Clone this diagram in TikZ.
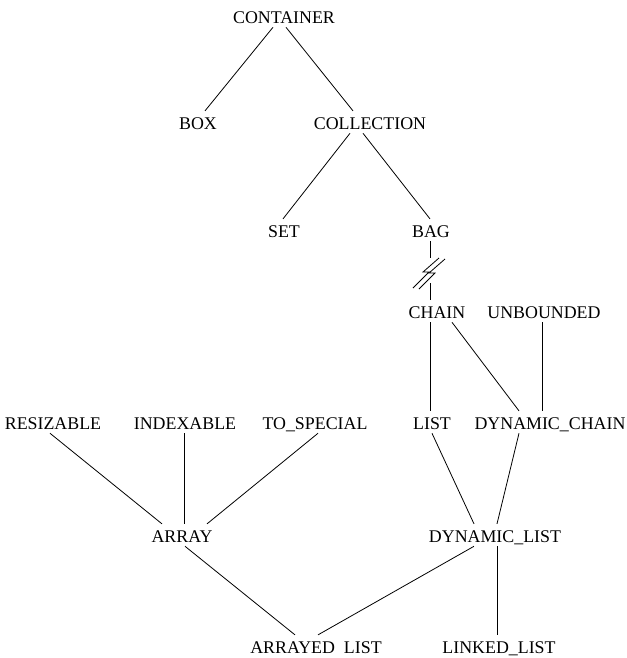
\documentclass[tikz,border=0pt]{standalone}
\usepackage{fontspec}
\setmainfont{Liberation Serif}
\tikzstyle{cls} = [anchor=base, inner sep=0pt, text height=13.4pt, text depth=3pt, font=\fontsize{13.4}{16}\selectfont]
\tikzstyle{link} = [line width=0.6pt]

\begin{document}
\begin{tikzpicture}[x=0.75pt, y=-0.75pt]
    \useasboundingbox (0,0) rectangle (627,658);

    % Nodes
    \node (container) [cls] at (284,23) {CONTAINER};
    \node (box) [cls] at (198,129) {BOX};
    \node (collection) [cls] at (370,129) {COLLECTION};
    \node (set) [cls] at (284,237) {SET};
    \node (bag) [cls] at (431,237) {BAG};
    \node (chain) [cls] at (437,318) {CHAIN};
    \node (unbounded) [cls] at (544,318) {UNBOUNDED};
    \node (resizable) [cls] at (53,429) {RESIZABLE};
    \node (indexable) [cls] at (185,429) {INDEXABLE};
    \node (tospecial) [cls] at (315,429) {TO\_SPECIAL};
    \node (list) [cls] at (432,429) {LIST};
    \node (dynchain) [cls] at (550,429) {DYNAMIC\_CHAIN};
    \node (array) [cls] at (182,542) {ARRAY};
    \node (dynlist) [cls] at (495,542) {DYNAMIC\_LIST};
    \node (arrayedlist) [cls] at (316,653) {ARRAYED\enspace LIST};
    \node (linkedlist) [cls] at (499,653) {LINKED\_LIST};

    % Break between BAG and CHAIN
    \coordinate (brk) at (430,271);
    \coordinate (brktop) at (430,258);
    \coordinate (brkbot) at (430,283);

    % Links
    \draw [link] ([shift={(-11,0)}]container.south) -- ([shift={(7,0)}]box.north);
    \draw [link] ([shift={(2,0)}]container.south) -- ([shift={(-17,0)}]collection.north);
    \draw [link] ([shift={(-20,0)}]collection.south) -- ([shift={(-1,0)}]set.north);
    \draw [link] ([shift={(-7,0)}]collection.south) -- ([shift={(-1,0)}]bag.north);
    \draw [link] ([shift={(-1,0)}]bag.south) -- (brktop);
    \draw [link] (brkbot) -- ([shift={(-7,0)}]chain.north);
    \draw [link] (brk) ++(9,-13) -- ++(-16,14) -- ++(6,0) -- ++(-16,16);
    \draw [link] (brk) ++(15,-12) -- ++(-16,14) -- ++(6,0) -- ++(-16,16);
    \draw [link] ([shift={(-7,0)}]chain.south) -- ([shift={(-2,0)}]list.north);
    \draw [link] ([shift={(15,0)}]chain.south) -- ([shift={(-31,0)}]dynchain.north);
    \draw [link] ([shift={(-2,0)}]unbounded.south) -- ([shift={(-8,0)}]dynchain.north);
    \draw [link] ([shift={(-3,0)}]resizable.south) -- ([shift={(-20,0)}]array.north);
    \draw [link] ([shift={(-1,0)}]indexable.south) -- ([shift={(2,0)}]array.north);
    \draw [link] ([shift={(3,0)}]tospecial.south) -- ([shift={(25,0)}]array.north);
    \draw [link] (list.south) -- ([shift={(-21,0)}]dynlist.north);
    \draw [link] ([shift={(-31,0)}]dynchain.south) -- ([shift={(2,0)}]dynlist.north);
    \draw [link] ([shift={(3,0)}]array.south) -- ([shift={(-21,0)}]arrayedlist.north);
    \draw [link] ([shift={(-21,0)}]dynlist.south) -- ([shift={(2,0)}]arrayedlist.north);
    \draw [link] ([shift={(2,0)}]dynlist.south) -- ([shift={(-2,0)}]linkedlist.north);
\end{tikzpicture}
\end{document}
